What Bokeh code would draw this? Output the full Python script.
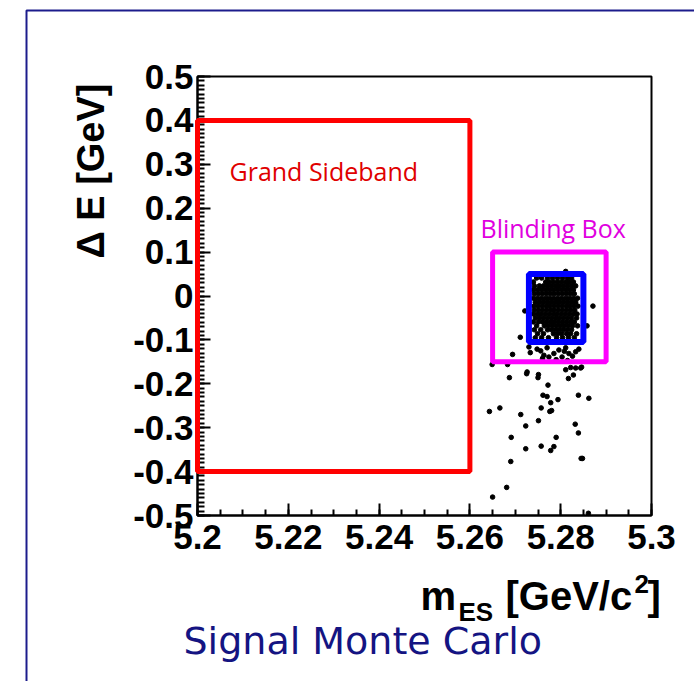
import numpy as np
from bokeh.plotting import figure
from bokeh.models import FixedTicker, Label, BoxAnnotation, Range1d, LinearAxis
from bokeh.embed import file_html
from bokeh.resources import INLINE

# ---------------- data ----------------
x_ticks = [5.2, 5.22, 5.24, 5.26, 5.28, 5.3]
x_tick_labels = ["5.2", "5.22", "5.24", "5.26", "5.28", "5.3"]
y_ticks = [-0.5, -0.4, -0.3, -0.2, -0.1, 0.0, 0.1, 0.2, 0.3, 0.4, 0.5]
y_tick_labels = ["-0.5", "-0.4", "-0.3", "-0.2", "-0.1", "0", "0.1", "0.2", "0.3", "0.4", "0.5"]

# region boxes: (mES range, Delta E range)
sideband_mes = [5.20, 5.26]
sideband_de = [-0.40, 0.40]
blind_mes = [5.265, 5.29]
blind_de = [-0.15, 0.10]
signal_mes = [5.273, 5.285]
signal_de = [-0.105, 0.05]

# dense signal core, read row by row (Delta E of row, mES values in row)
core_de = [0.041, 0.032, 0.023, 0.014, 0.005, -0.005, -0.014, -0.023,
           -0.032, -0.041, -0.050, -0.059, -0.068, -0.077, -0.086, -0.095]
core_mes = [
    [5.2747, 5.2758, 5.2771, 5.2782, 5.2793, 5.2804, 5.2815, 5.2824],
    [5.2740, 5.2767, 5.2775, 5.2784, 5.2793, 5.2802, 5.2811, 5.2819, 5.2828],
    [5.2742, 5.2753, 5.2762, 5.2771, 5.2780, 5.2789, 5.2797, 5.2806, 5.2815, 5.2824, 5.2833],
    [5.2740, 5.2749, 5.2758, 5.2767, 5.2775, 5.2784, 5.2793, 5.2802, 5.2811, 5.2819, 5.2828],
    [5.2742, 5.2751, 5.2760, 5.2769, 5.2778, 5.2786, 5.2795, 5.2804, 5.2813, 5.2822, 5.2830],
    [5.2740, 5.2749, 5.2758, 5.2767, 5.2775, 5.2784, 5.2793, 5.2802, 5.2811, 5.2819, 5.2828, 5.2837],
    [5.2744, 5.2753, 5.2762, 5.2771, 5.2780, 5.2789, 5.2797, 5.2806, 5.2815, 5.2824, 5.2833],
    [5.2741, 5.2750, 5.2759, 5.2768, 5.2776, 5.2785, 5.2794, 5.2803, 5.2812, 5.2820, 5.2829, 5.2838],
    [5.2742, 5.2751, 5.2760, 5.2769, 5.2778, 5.2786, 5.2795, 5.2804, 5.2813, 5.2822, 5.2831],
    [5.2740, 5.2749, 5.2757, 5.2766, 5.2775, 5.2784, 5.2792, 5.2801, 5.2810, 5.2819, 5.2828, 5.2836],
    [5.2744, 5.2753, 5.2762, 5.2771, 5.2780, 5.2789, 5.2797, 5.2806, 5.2815, 5.2824, 5.2835],
    [5.2740, 5.2751, 5.2760, 5.2769, 5.2778, 5.2786, 5.2795, 5.2804, 5.2813, 5.2822, 5.2830],
    [5.2747, 5.2764, 5.2773, 5.2782, 5.2791, 5.2800, 5.2808, 5.2817, 5.2826, 5.2837],
    [5.2742, 5.2756, 5.2771, 5.2780, 5.2789, 5.2797, 5.2806, 5.2815, 5.2824],
    [5.2749, 5.2762, 5.2784, 5.2793, 5.2802, 5.2813, 5.2822, 5.2835],
    [5.2744, 5.2758, 5.2773, 5.2791, 5.2804, 5.2817, 5.2830],
]

# scattered events outside the core
tail_mes = [5.2811, 5.2871, 5.2721, 5.2711, 5.2858, 5.2730, 5.2748, 5.2770, 5.2774, 5.2785,
            5.2796, 5.2811, 5.2818, 5.2833, 5.2840, 5.2733, 5.2763, 5.2803, 5.2694, 5.2756,
            5.2808, 5.2826, 5.2760, 5.2815, 5.2790, 5.2649, 5.2683, 5.2811, 5.2822, 5.2833,
            5.2846, 5.2687, 5.2725, 5.2751, 5.2750, 5.2828, 5.2817, 5.2726, 5.2844, 5.2772,
            5.2761, 5.2770, 5.2778, 5.2794, 5.2839, 5.2862, 5.2757, 5.2780, 5.2776, 5.2643,
            5.2666, 5.2712, 5.2751, 5.2723, 5.2832, 5.2839, 5.2691, 5.2790, 5.2757, 5.2785,
            5.2723, 5.2778, 5.2845, 5.2848, 5.2690, 5.2681, 5.2650, 5.2861]
tail_de = [0.056, -0.023, -0.034, -0.094, -0.068, -0.116, -0.121, -0.118, -0.139, -0.131,
           -0.123, -0.118, -0.131, -0.127, -0.121, -0.129, -0.135, -0.139, -0.133, -0.125,
           -0.126, -0.137, -0.142, -0.147, -0.145, -0.156, -0.156, -0.168, -0.163, -0.164,
           -0.162, -0.186, -0.177, -0.179, -0.186, -0.180, -0.188, -0.173, -0.164, -0.203,
           -0.226, -0.229, -0.243, -0.236, -0.226, -0.233, -0.255, -0.261, -0.263, -0.263,
           -0.255, -0.270, -0.284, -0.296, -0.292, -0.312, -0.322, -0.322, -0.342, -0.343,
           -0.348, -0.352, -0.370, -0.370, -0.377, -0.436, -0.458, -0.495]

# ---------------- layout (pixels) ----------------
W, H = 694, 681
FR_L, FR_R, FR_T, FR_B = 197, 651, 76, 515          # axes frame in the page
XMIN, XMAX = x_ticks[0], x_ticks[-1]
YMIN, YMAX = y_ticks[0], y_ticks[-1]
KX = (FR_R - FR_L) / (XMAX - XMIN)
KY = (FR_B - FR_T) / (YMAX - YMIN)
X0 = XMIN - FR_L / KX
Y0 = YMAX + FR_T / KY


def px_x(px):
    return X0 + px / KX


def px_y(py):
    return Y0 - py / KY


p = figure(width=W, height=H, output_backend="svg", toolbar_location=None,
           x_range=Range1d(px_x(0), px_x(W)), y_range=Range1d(px_y(H), px_y(0)),
           x_axis_location=None, y_axis_location=None, min_border=0)
p.background_fill_color = "white"
p.border_fill_color = "white"
p.grid.visible = False
p.outline_line_color = None

FONT = "Liberation Sans"

xminor = list(np.round(np.arange(XMIN, XMAX + 1e-4, 0.005), 4))
yminor = list(np.round(np.arange(YMIN, YMAX + 1e-4, 0.01), 3))

xaxis = LinearAxis(fixed_location=YMIN, bounds=(XMIN, XMAX),
                   ticker=FixedTicker(ticks=x_ticks, minor_ticks=xminor),
                   major_label_overrides=dict(zip(x_ticks, x_tick_labels)))
yaxis = LinearAxis(fixed_location=XMIN, bounds=(YMIN, YMAX),
                   ticker=FixedTicker(ticks=y_ticks, minor_ticks=yminor),
                   major_label_overrides=dict(zip(y_ticks, y_tick_labels)))
for ax in (xaxis, yaxis):
    ax.axis_line_color = "black"
    ax.axis_line_width = 2
    ax.major_tick_line_color = "black"
    ax.minor_tick_line_color = "black"
    ax.major_tick_line_width = 2
    ax.minor_tick_line_width = 2
    ax.major_tick_out = 0
    ax.minor_tick_out = 0
    ax.major_label_text_font = FONT
    ax.major_label_text_font_style = "bold"
    ax.major_label_text_font_size = "35px"
    ax.major_label_text_color = "black"
xaxis.major_tick_in = 12
xaxis.minor_tick_in = 6
yaxis.major_tick_in = 13
yaxis.minor_tick_in = 7
xaxis.major_label_standoff = 9
yaxis.major_label_standoff = 4
p.add_layout(xaxis, "below")
p.add_layout(yaxis, "left")

# frame outline of the axes
p.quad(left=[XMIN], right=[XMAX], bottom=[YMIN], top=[YMAX],
       fill_alpha=0, line_color="black", line_width=2)

# points
mes_core = [m for row in core_mes for m in row]
de_core = [d for d, row in zip(core_de, core_mes) for _ in row]
p.scatter(mes_core + tail_mes, de_core + tail_de, size=4.6, color="black", marker="circle")

# region boxes
p.quad(left=[sideband_mes[0]], right=[sideband_mes[1]], bottom=[sideband_de[0]], top=[sideband_de[1]],
       fill_alpha=0, line_color="#ff0000", line_width=5, level="overlay")
p.quad(left=[blind_mes[0]], right=[blind_mes[1]], bottom=[blind_de[0]], top=[blind_de[1]],
       fill_alpha=0, line_color="#ff00ff", line_width=5, level="overlay")
p.quad(left=[signal_mes[0]], right=[signal_mes[1]], bottom=[signal_de[0]], top=[signal_de[1]],
       fill_alpha=0, line_color="#0000ff", line_width=6, level="overlay")

# texts (positions in page pixels; FIX compensates Bokeh's alphabetic baseline placement)
FIX = 0.42


def text(px, base_py, s, size, font=FONT, bold=True, color="black"):
    p.add_layout(Label(x=px_x(px), y=px_y(base_py - FIX * size), text=s, text_font=font,
                       text_font_style="bold" if bold else "normal",
                       text_font_size=f"{size}px", text_color=color,
                       text_baseline="alphabetic", level="overlay"))


text(229, 181, "Grand Sideband", 25, font="Open Sans", bold=False, color="#e00000")
text(480, 238, "Blinding Box", 25, font="Open Sans", bold=False, color="#e000e0")

p.add_layout(Label(x=px_x(90), y=px_y(83), text="\u0394 E [GeV]", angle=np.pi / 2,
                   text_font=FONT, text_font_style="bold", text_font_size="38px",
                   text_align="right", text_baseline="middle", text_color="black", level="overlay"))

text(420, 612, "m", 40)
text(458, 622, "ES", 26)
text(505, 612, "[GeV/c", 40)
text(634, 594, "2", 26)
text(647, 612, "]", 40)

text(183, 656, "Signal Monte Carlo", 38, font="DejaVu Sans", bold=False, color="#141482")

# outer pad frame (partly outside the window)
p.add_layout(BoxAnnotation(left=px_x(26), right=px_x(W + 50), top=px_y(10), bottom=px_y(H + 50),
                           fill_alpha=0, line_color="#1c1c8c", line_alpha=1.0, line_width=2,
                           level="overlay"))

open("out.html", "w").write(file_html(p, INLINE))
